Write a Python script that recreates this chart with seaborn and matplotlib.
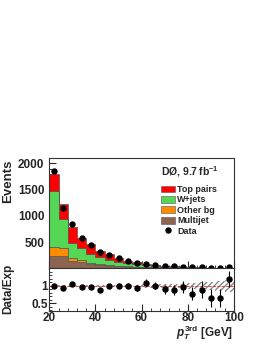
import numpy as np
import pandas as pd
import matplotlib
matplotlib.use("Agg")
import matplotlib.pyplot as plt
import matplotlib.patches as mpatches
from matplotlib.lines import Line2D
from matplotlib.ticker import MultipleLocator, FixedLocator, FuncFormatter
import seaborn as sns

# binning: 20 bins of 4 GeV
edges = list(range(20, 101, 4))
centers = [e + 2 for e in edges[:-1]]

# stacked expectation (events per bin)
multijet = [240, 240, 150, 130, 85, 65, 50, 40, 30, 25, 20, 15, 12, 10, 8, 6, 5, 4, 3, 3]
other_bg = [165, 145, 55, 28, 20, 15, 12, 10, 8, 6, 5, 4, 3, 3, 2, 2, 2, 1, 1, 1]
wjets = [1068, 556, 274, 226, 165, 133, 100, 80, 62, 46, 36, 28, 22, 17, 13, 10, 8, 6, 5, 4]
top_pairs = [324, 285, 304, 202, 190, 125, 108, 75, 50, 38, 29, 23, 18, 13, 11, 9, 7, 6, 5, 3]

# data
data = [1853, 1156, 840, 574, 450, 315, 250, 200, 145, 110, 92, 68, 50, 38, 33, 22, 19, 11, 9, 20]

# ratio panel
ratio = [1.00, 0.94, 1.06, 0.96, 0.98, 0.87, 1.01, 1.01, 1.01, 0.94, 1.09, 1.01,
         0.91, 0.89, 0.98, 0.78, 0.89, 0.66, 0.66, 1.20]
ratio_err = [0.02, 0.03, 0.035, 0.04, 0.045, 0.05, 0.055, 0.06, 0.07, 0.08, 0.1, 0.11,
             0.13, 0.15, 0.17, 0.19, 0.24, 0.25, 0.26, 0.24]
syst_band = [0.02, 0.02, 0.02, 0.02, 0.025, 0.03, 0.03, 0.035, 0.04, 0.04, 0.045, 0.05,
             0.055, 0.06, 0.07, 0.08, 0.1, 0.12, 0.15, 0.18]

processes = ["Top pairs", "W+jets", "Other bg", "Multijet"]
colors = {"Top pairs": "#ff0000", "W+jets": "#55d655", "Other bg": "#ff8c00", "Multijet": "#8c6450"}

rows = []
for name, vals in zip(processes, [top_pairs, wjets, other_bg, multijet]):
    for c, v in zip(centers, vals):
        rows.append({"pt": c, "events": v, "process": name})
df = pd.DataFrame(rows)

sns.set_style("ticks")
plt.rcParams["font.family"] = ["Liberation Sans", "DejaVu Sans"]
plt.rcParams["font.weight"] = "bold"
plt.rcParams["mathtext.fontset"] = "custom"
plt.rcParams["mathtext.it"] = "Liberation Sans:bold:italic"
plt.rcParams["mathtext.rm"] = "Liberation Sans:bold"
plt.rcParams["mathtext.bf"] = "Liberation Sans:bold"

fig = plt.figure(figsize=(2.66, 3.44), dpi=100)
ax = fig.add_axes([0.1853, 0.2195, 0.694, 0.321])
rax = fig.add_axes([0.1853, 0.0968, 0.694, 0.1227])

sns.histplot(data=df, x="pt", weights="events", hue="process", hue_order=processes,
             multiple="stack", bins=edges, element="step", palette=colors, alpha=1,
             edgecolor="#555555", linewidth=0.5, legend=False, ax=ax)
ax.plot(centers, data, "o", color="black", ms=3.6, zorder=5)

ax.set_xlim(20, 100)
ax.set_ylim(0, 2100)
ax.set_xlabel("")
ax.set_ylabel("")
ax.yaxis.set_major_locator(FixedLocator([500, 1000, 1500, 2000]))
ax.yaxis.set_minor_locator(MultipleLocator(100))
ax.xaxis.set_major_locator(MultipleLocator(20))
ax.xaxis.set_minor_locator(MultipleLocator(4))
ax.tick_params(axis="both", which="major", direction="in", length=5, width=0.8, labelsize=8.5)
ax.tick_params(axis="both", which="minor", direction="in", length=2.5, width=0.6)
ax.tick_params(axis="x", labelbottom=False)
for s in ax.spines.values():
    s.set_linewidth(0.8)
    s.set_color("#333333")

ax.text(0.762, 0.88, "DØ, 9.7\u2009fb$^{\\mathrm{-1}}$", transform=ax.transAxes,
        ha="center", va="center", fontsize=7.5, fontweight="bold")
handles = [mpatches.Patch(facecolor=colors[p], edgecolor="#555555", linewidth=0.4, label=p)
           for p in processes]
handles.append(Line2D([], [], marker="o", color="black", ls="", ms=3.6, label="Data"))
ax.legend(handles=handles, loc="upper left", bbox_to_anchor=(0.603, 0.755), frameon=False,
          fontsize=6.5, handlelength=1.55, handleheight=0.8, handletextpad=0.3,
          labelspacing=0.15, borderaxespad=0, borderpad=0)

fig.text(0.008, 0.535, "Events", rotation=90, ha="left", va="top",
         fontsize=9.5, fontweight="bold")

# ratio panel
band = np.array(syst_band + [syst_band[-1]])
rax.fill_between(edges, 1 - band, 1 + band, step="post", facecolor="none",
                 edgecolor="#888888", hatch="//////", linewidth=0)
rax.axhline(1, color="#cc3333", lw=0.6, ls="--")
rax.errorbar(centers, ratio, yerr=ratio_err, fmt="o", color="black", ms=3.6,
             elinewidth=0.8, capsize=0, zorder=5)
rax.set_xlim(20, 100)
rax.set_ylim(0.29, 1.5)
rax.yaxis.set_major_locator(FixedLocator([0.5, 1.0]))
rax.yaxis.set_major_formatter(FuncFormatter(lambda v, p: "%g" % v))
rax.yaxis.set_minor_locator(MultipleLocator(0.1))
rax.xaxis.set_major_locator(MultipleLocator(20))
rax.xaxis.set_minor_locator(MultipleLocator(4))
rax.tick_params(axis="both", which="major", direction="in", length=5, width=0.8, labelsize=8.5, pad=1)
rax.tick_params(axis="both", which="minor", direction="in", length=2.5, width=0.6)
for s in rax.spines.values():
    s.set_linewidth(0.8)
    s.set_color("#333333")
fig.text(0.877, 0.022, r"$p_T^{\mathrm{3rd}}$ [GeV]", ha="right", va="baseline",
         fontsize=8.5, fontweight="bold")
fig.text(0.008, 0.16, "Data/Exp", rotation=90, ha="left", va="center",
         fontsize=8.5, fontweight="bold")

fig.savefig("out.png", dpi=100)
